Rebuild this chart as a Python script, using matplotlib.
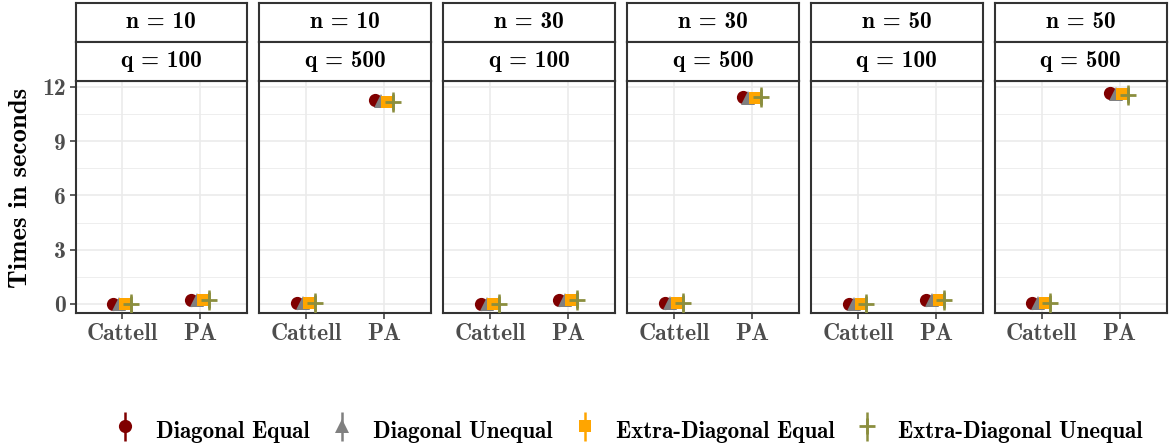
import matplotlib
matplotlib.use("Agg")
import matplotlib.pyplot as plt
from matplotlib.ticker import MultipleLocator
from matplotlib.legend_handler import HandlerErrorbar
from matplotlib.container import ErrorbarContainer
import numpy as np

# ---- data ----
methods = ["Cattell", "PA"]
n_labels = ["n = 10", "n = 10", "n = 30", "n = 30", "n = 50", "n = 50"]
q_labels = ["q = 100", "q = 500", "q = 100", "q = 500", "q = 100", "q = 500"]
series = ["Diagonal Equal", "Diagonal Unequal", "Extra-Diagonal Equal", "Extra-Diagonal Unequal"]

# values per panel: [Cattell, PA]
diag_equal = [[0.02, 0.20], [0.03, 11.25], [0.02, 0.22], [0.03, 11.42], [0.02, 0.22], [0.03, 11.68]]
diag_unequal = [[0.02, 0.22], [0.03, 11.20], [0.02, 0.22], [0.03, 11.40], [0.02, 0.22], [0.03, 11.62]]
extra_equal = [[0.02, 0.22], [0.03, 11.15], [0.02, 0.22], [0.03, 11.40], [0.02, 0.22], [0.03, 11.60]]
extra_unequal = [[0.02, 0.20], [0.03, 11.15], [0.02, 0.20], [0.03, 11.42], [0.02, 0.20], [0.03, 11.55]]
errors = [0.12, 0.12, 0.15, 0.55]

colors = ["#800000", "#808080", "#FFA500", "#8B8E3E"]
markers = ["o", "^", "s", "+"]
msizes = [9.5, 9.5, 8.5, 12]
offsets = [-0.12, -0.045, 0.035, 0.11]
all_series = [diag_equal, diag_unequal, extra_equal, extra_unequal]

# ---- style ----
FONT = "cmb10"
plt.rcParams["font.family"] = [FONT, "DejaVu Serif"]
plt.rcParams["axes.unicode_minus"] = False

W, H = 1172, 446
fig = plt.figure(figsize=(W / 100, H / 100), dpi=100)

def fx(px):
    return px / W

def fy(py):
    return 1 - py / H

panel_left0 = 75.5
panel_w = 171.5
gap = 12.4
ptop, pbot = 80.7, 313.0
s1top, s1bot = 3.0, 42.0

edge = "#333333"
handles = []
for p in range(6):
    left = panel_left0 + p * (panel_w + gap)
    ax = fig.add_axes([fx(left), fy(pbot), fx(panel_w), (pbot - ptop) / H])
    ax.set_xlim(0.4, 2.6)
    ax.set_ylim(-0.5, 12.34)
    ax.yaxis.set_major_locator(MultipleLocator(3))
    ax.yaxis.set_minor_locator(MultipleLocator(1.5))
    ax.set_xticks([1, 2])
    ax.set_xticklabels(methods)
    ax.grid(which="major", color="#EBEBEB", lw=1.2, zorder=0)
    ax.grid(which="minor", axis="y", color="#EBEBEB", lw=0.6, zorder=0)
    ax.set_axisbelow(True)
    for s in ax.spines.values():
        s.set_color(edge)
        s.set_linewidth(1.5)
    ax.tick_params(axis="both", which="major", length=4, width=1.1, color=edge,
                   labelsize=17, labelcolor="#4D4D4D", pad=3)
    ax.tick_params(axis="both", which="minor", length=0)
    if p > 0:
        ax.tick_params(axis="y", which="both", left=False, labelleft=False)
    else:
        ax.set_ylabel("Times in seconds", fontsize=19.3, color="black")
        ax.yaxis.set_label_coords(-(75.5 - 32) / panel_w, (pbot - 188) / (pbot - ptop))
    xs = np.array([1, 2], dtype=float)
    for k, ser in enumerate(all_series):
        vals = np.array(ser[p], dtype=float)
        c = ax.errorbar(xs + offsets[k], vals, yerr=errors[k], fmt=markers[k], color=colors[k],
                        ms=msizes[k], mew=2.0 if markers[k] == "+" else 0.0, elinewidth=1.8,
                        capsize=0, zorder=3 + k, label=series[k])
        if p == 0:
            handles.append(c)
    # strips
    for (t, b, lab) in [(s1top, s1bot, n_labels[p]), (s1bot, ptop, q_labels[p])]:
        sax = fig.add_axes([fx(left), fy(b), fx(panel_w), (b - t) / H])
        sax.set_xticks([])
        sax.set_yticks([])
        sax.set_facecolor("white")
        for s in sax.spines.values():
            s.set_color(edge)
            s.set_linewidth(1.5)
        sax.text(0.5, 0.5, lab, ha="center", va="center", fontsize=16.8, color="black",
                 transform=sax.transAxes)

leg = fig.legend(handles=handles, labels=series, loc="center", ncol=4,
                 bbox_to_anchor=(0.535, fy(430)), frameon=False, fontsize=16.6,
                 handlelength=1.2, handletextpad=0.75, columnspacing=0.8,
                 handleheight=1.6,
                 handler_map={ErrorbarContainer: HandlerErrorbar(yerr_size=0.62)})

fig.savefig("out.png", dpi=100)
